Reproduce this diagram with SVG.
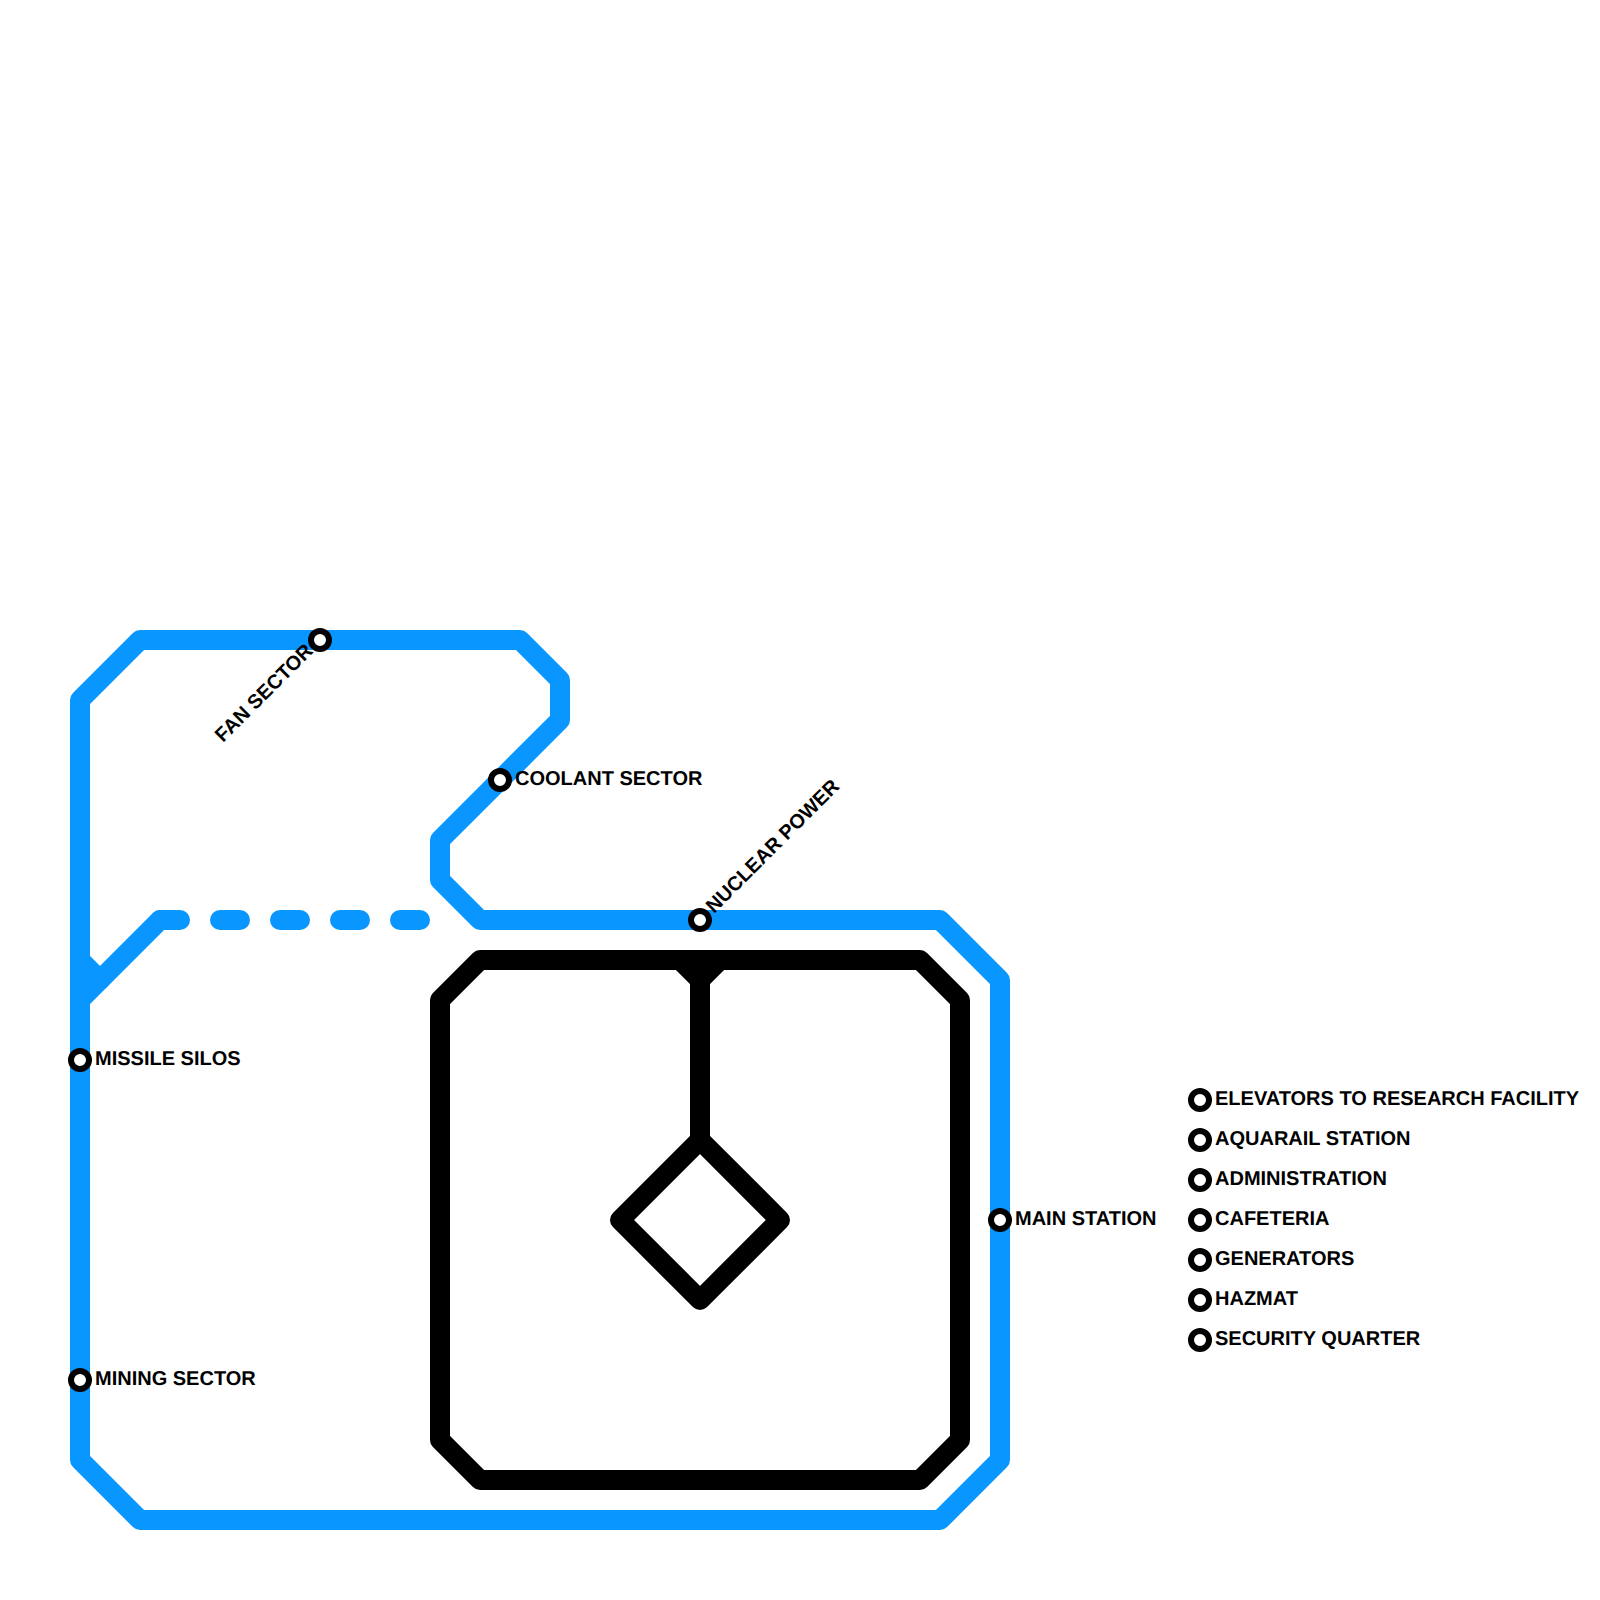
<svg xmlns="http://www.w3.org/2000/svg" width="1600" height="1600" viewBox="0 0 1600 1600">
<style>
.blue{fill:none;stroke:#0a96ff;stroke-width:20;stroke-linejoin:round;stroke-linecap:round}
.black{fill:none;stroke:#000;stroke-width:20;stroke-linejoin:round;stroke-linecap:round}
.dash{stroke-dasharray:20 40}
.st{fill:#fff;stroke:#000;stroke-width:6}
text{font-family:"Liberation Sans",Arial,sans-serif;font-weight:700;font-size:20px;fill:#000;text-rendering:geometricPrecision}
</style>
<rect width="1600" height="1600" fill="#fff"/>
<g id="connectors">
<path class="blue" d="M80 700L140 640H520L560 680V720L440 840V880L480 920H940L1000 980V1460L940 1520H140L80 1460Z"/>
<path class="blue" d="M80 1000L160 920"/>
<path class="blue" d="M80 960L100 980"/>
<path class="blue dash" d="M160 920H420"/>
<path class="black" d="M480 960H920L960 1000V1440L920 1480H480L440 1440V1000Z"/>
<path class="black" d="M680 960L700 980L720 960M700 980V1140"/>
<path class="black" d="M700 1140L780 1220L700 1300L620 1220Z"/>
</g>
<g id="n-missile"><circle class="st" cx="80" cy="1060" r="9"/><text x="95" y="1065">MISSILE SILOS</text></g>
<g id="n-mining"><circle class="st" cx="80" cy="1380" r="9"/><text x="95" y="1385">MINING SECTOR</text></g>
<g id="n-fan"><circle class="st" cx="320" cy="640" r="9"/><text transform="translate(314 652) rotate(-45)" text-anchor="end">FAN SECTOR</text></g>
<g id="n-coolant"><circle class="st" cx="500" cy="780" r="9"/><text x="515" y="785">COOLANT SECTOR</text></g>
<g id="n-nuclear"><circle class="st" cx="700" cy="920" r="9"/><text transform="translate(714 914) rotate(-45)">NUCLEAR POWER</text></g>
<g id="n-main"><circle class="st" cx="1000" cy="1220" r="9"/><text x="1015" y="1225">MAIN STATION</text></g>
<g id="n-elevators"><circle class="st" cx="1200" cy="1100" r="9"/><text x="1215" y="1105">ELEVATORS TO RESEARCH FACILITY</text></g>
<g id="n-aquarail"><circle class="st" cx="1200" cy="1140" r="9"/><text x="1215" y="1145">AQUARAIL STATION</text></g>
<g id="n-admin"><circle class="st" cx="1200" cy="1180" r="9"/><text x="1215" y="1185">ADMINISTRATION</text></g>
<g id="n-cafeteria"><circle class="st" cx="1200" cy="1220" r="9"/><text x="1215" y="1225">CAFETERIA</text></g>
<g id="n-generators"><circle class="st" cx="1200" cy="1260" r="9"/><text x="1215" y="1265">GENERATORS</text></g>
<g id="n-hazmat"><circle class="st" cx="1200" cy="1300" r="9"/><text x="1215" y="1305">HAZMAT</text></g>
<g id="n-security"><circle class="st" cx="1200" cy="1340" r="9"/><text x="1215" y="1345">SECURITY QUARTER</text></g>
</svg>
